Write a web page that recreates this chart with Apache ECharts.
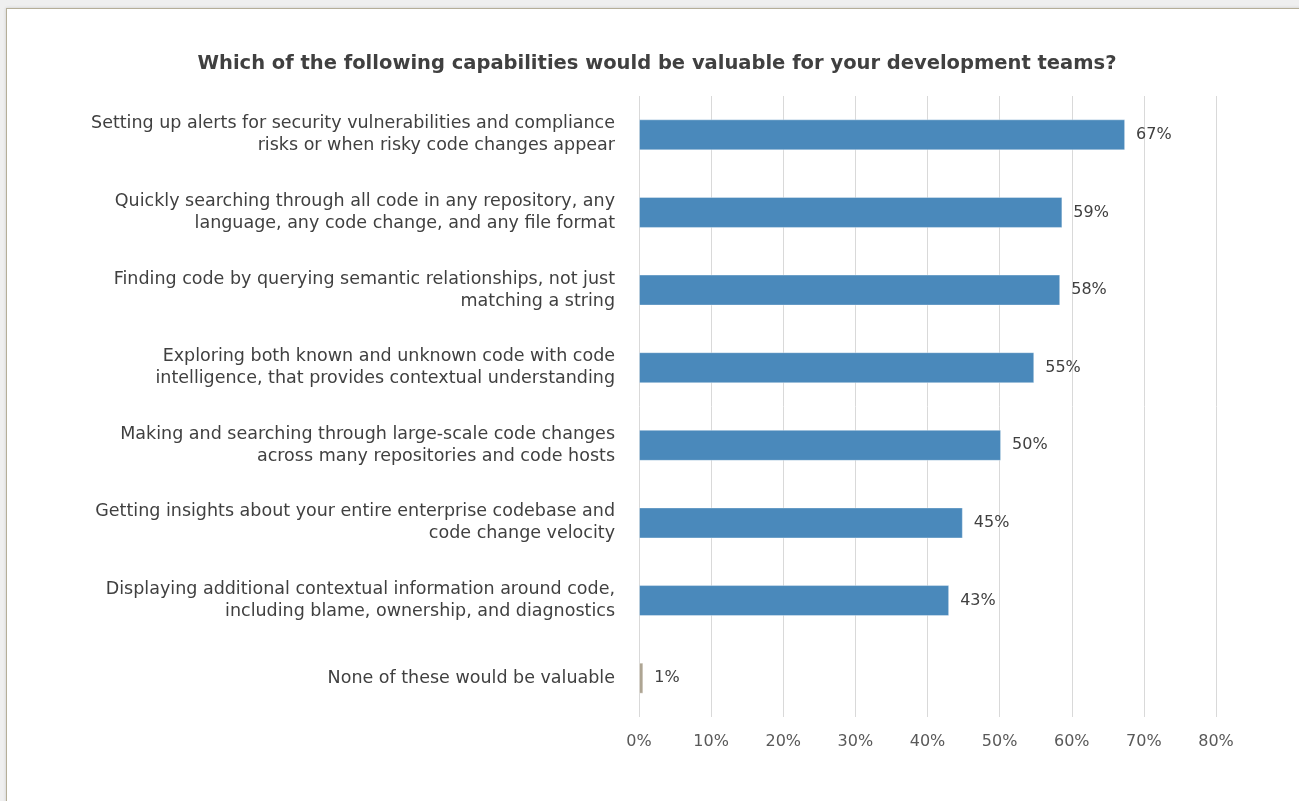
<!DOCTYPE html>
<html>
<head>
<meta charset="utf-8">
<script src="https://cdn.jsdelivr.net/npm/echarts@6/dist/echarts.min.js"></script>
<style>
html,body{margin:0;padding:0;width:1299px;height:801px;background:#efefef;overflow:hidden;}
#frame{position:absolute;left:6px;top:8px;width:1310px;height:820px;background:#fff;border:1px solid #b5ae98;box-shadow:0 0 3px rgba(0,0,0,0.15);}
#chart{position:absolute;left:0;top:0;width:1299px;height:801px;}
</style>
</head>
<body>
<div id="frame"></div>
<div id="chart"></div>
<script>
const titleText = 'Which of the following capabilities would be valuable for your development teams?';
const categories = [
  'Setting up alerts for security vulnerabilities and compliance\nrisks or when risky code changes appear',
  'Quickly searching through all code in any repository, any\nlanguage, any code change, and any file format',
  'Finding code by querying semantic relationships, not just\nmatching a string',
  'Exploring both known and unknown code with code\nintelligence, that provides contextual understanding',
  'Making and searching through large-scale code changes\nacross many repositories and code hosts',
  'Getting insights about your entire enterprise codebase and\ncode change velocity',
  'Displaying additional contextual information around code,\nincluding blame, ownership, and diagnostics',
  'None of these would be valuable'
];
const values = [67.4, 58.7, 58.4, 54.8, 50.2, 44.9, 43.0, 0.6];
const barColors = ['#4a89bb','#4a89bb','#4a89bb','#4a89bb','#4a89bb','#4a89bb','#4a89bb','#aea593'];
const xTicks = [0, 10, 20, 30, 40, 50, 60, 70, 80];

const font = '"DejaVu Sans", sans-serif';
const chart = echarts.init(document.getElementById('chart'), null, {renderer:'canvas'});
chart.setOption({
  animation: false,
  backgroundColor: 'transparent',
  title: {
    text: titleText,
    left: 652,
    textAlign: 'center',
    top: 49,
    textStyle: {fontFamily: '"DejaVu Sans", sans-serif', fontWeight: 'bold', fontSize: 19.5, color: '#404040'}
  },
  grid: {left: 639, right: 83, top: 96, bottom: 84, containLabel: false},
  xAxis: {
    type: 'value',
    min: xTicks[0], max: xTicks[xTicks.length-1], interval: 10,
    axisLine: {show: false},
    axisTick: {show: false},
    splitLine: {show: true, lineStyle: {color: '#d9d9d9', width: 1}},
    axisLabel: {formatter: v => v + '%', color: '#595959', fontSize: 16, fontFamily: font, margin: 17}
  },
  yAxis: {
    type: 'category',
    inverse: true,
    data: categories,
    axisLine: {show: false},
    axisTick: {show: false},
    axisLabel: {color: '#404040', fontSize: 17.5, fontFamily: font, margin: 24, align: 'right', lineHeight: 22}
  },
  series: [{
    type: 'bar',
    data: values.map((v, i) => ({value: v, itemStyle: {color: barColors[i]}})),
    barWidth: 31,
    itemStyle: {borderColor: 'rgba(255,255,255,0.35)', borderWidth: 1},
    label: {
      show: true, position: 'right', distance: 11,
      formatter: p => Math.round(p.value) + '%',
      color: '#404040', fontSize: 16, fontFamily: font
    }
  }]
});
</script>
</body>
</html>
